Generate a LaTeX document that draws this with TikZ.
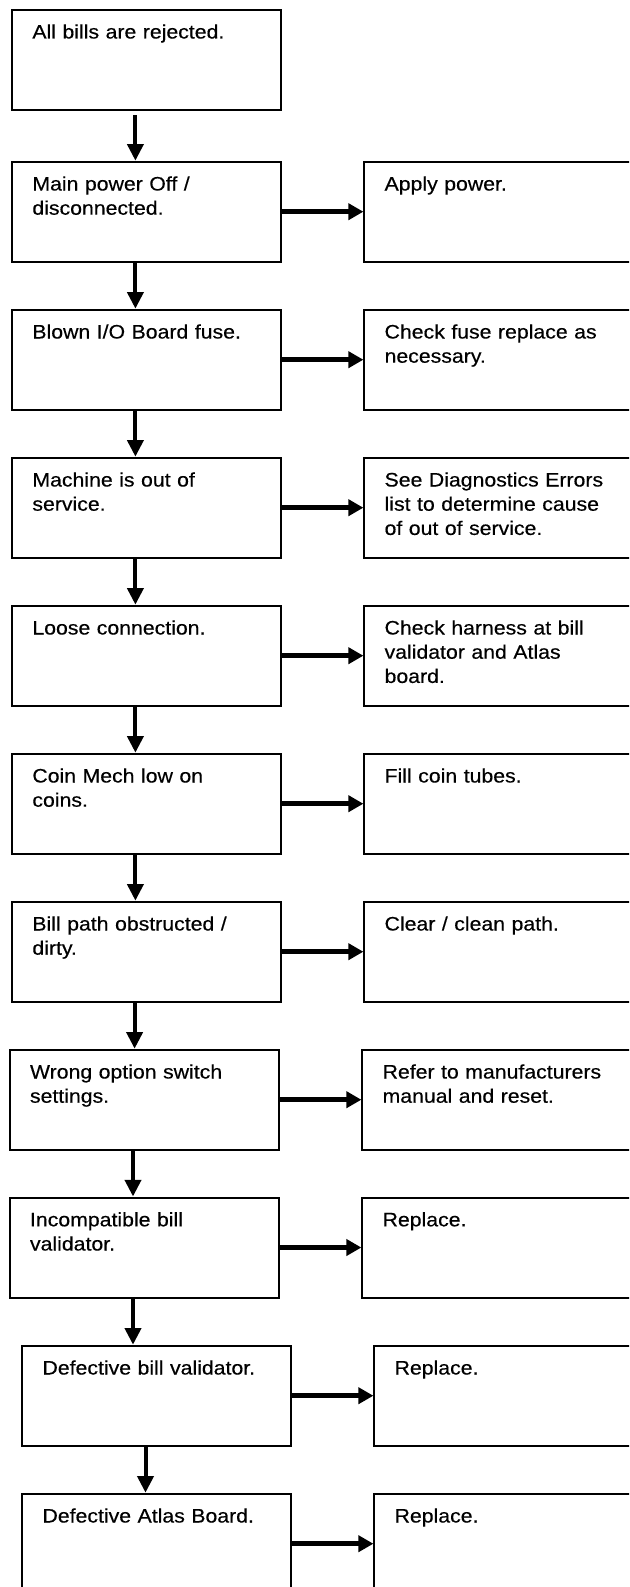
\documentclass[tikz,border=0pt]{standalone}
\usepackage{fontspec}
\setmainfont{Liberation Sans}[FakeStretch=1.09,FakeBold=0.4]
\usetikzlibrary{arrows.meta}
\begin{document}
\begin{tikzpicture}[x=1pt,y=-1pt,
  box/.style={draw=black,line width=2pt,inner sep=0pt,anchor=north west,minimum height=100pt},
  lbox/.style={box,minimum width=268.8pt},
  rbox/.style={box,minimum width=300pt},
  txt/.style={anchor=base west,inner sep=0pt,align=left,text width=250pt,font=\fontsize{19.5pt}{24.2pt}\selectfont},
  varrow/.style={line width=4pt,-{Triangle[length=16.7pt,width=16pt]}},
  harrow/.style={line width=5.3pt,-{Triangle[length=15pt,width=16pt]}}]
\clip (0,0) rectangle (629,1587);
% left column
\node[lbox] (b1) at (11.2,8.7) {};
\node[lbox] (b2) at (11.2,160.7) {};
\node[lbox] (b3) at (11.2,308.7) {};
\node[lbox] (b4) at (11.2,456.7) {};
\node[lbox] (b5) at (11.2,604.7) {};
\node[lbox] (b6) at (11.2,752.7) {};
\node[lbox] (b7) at (11.2,900.7) {};
\node[lbox] (b8) at (8.8,1048.7) {};
\node[lbox] (b9) at (8.8,1196.5) {};
\node[lbox] (b10) at (21.3,1344.7) {};
\node[lbox] (b11) at (21.3,1492.7) {};
% right column
\node[rbox] (r2) at (363.4,160.7) {};
\node[rbox] (r3) at (363.4,308.7) {};
\node[rbox] (r4) at (363.4,456.7) {};
\node[rbox] (r5) at (363.4,604.7) {};
\node[rbox] (r6) at (363.4,752.7) {};
\node[rbox] (r7) at (363.4,900.7) {};
\node[rbox] (r8) at (361.4,1048.7) {};
\node[rbox] (r9) at (361.4,1196.5) {};
\node[rbox] (r10) at (373.4,1344.7) {};
\node[rbox] (r11) at (373.4,1492.7) {};
% texts
\node[txt] (t1) at ([shift={(21,29.8)}]b1.north west) {All bills are rejected.};
\node[txt] (t2) at ([shift={(21,29.8)}]b2.north west) {Main power Off /\\disconnected.};
\node[txt] (t3) at ([shift={(21,29.8)}]b3.north west) {Blown I/O Board fuse.};
\node[txt] (t4) at ([shift={(21,29.8)}]b4.north west) {Machine is out of\\service.};
\node[txt] (t5) at ([shift={(21,29.8)}]b5.north west) {Loose connection.};
\node[txt] (t6) at ([shift={(21,29.8)}]b6.north west) {Coin Mech low on\\coins.};
\node[txt] (t7) at ([shift={(21,29.8)}]b7.north west) {Bill path obstructed /\\dirty.};
\node[txt] (t8) at ([shift={(21,29.8)}]b8.north west) {Wrong option switch\\settings.};
\node[txt] (t9) at ([shift={(21,29.8)}]b9.north west) {Incompatible bill\\validator.};
\node[txt] (t10) at ([shift={(21,29.8)}]b10.north west) {Defective bill validator.};
\node[txt] (t11) at ([shift={(21,29.8)}]b11.north west) {Defective Atlas Board.};
\node[txt] (s2) at ([shift={(21,29.8)}]r2.north west) {Apply power.};
\node[txt] (s3) at ([shift={(21,29.8)}]r3.north west) {Check fuse replace as\\necessary.};
\node[txt] (s4) at ([shift={(21,29.8)}]r4.north west) {See Diagnostics Errors\\list to determine cause\\of out of service.};
\node[txt] (s5) at ([shift={(21,29.8)}]r5.north west) {Check harness at bill\\validator and Atlas\\board.};
\node[txt] (s6) at ([shift={(21,29.8)}]r6.north west) {Fill coin tubes.};
\node[txt] (s7) at ([shift={(21,29.8)}]r7.north west) {Clear / clean path.};
\node[txt] (s8) at ([shift={(21,29.8)}]r8.north west) {Refer to manufacturers\\manual and reset.};
\node[txt] (s9) at ([shift={(21,29.8)}]r9.north west) {Replace.};
\node[txt] (s10) at ([shift={(21,29.8)}]r10.north west) {Replace.};
\node[txt] (s11) at ([shift={(21,29.8)}]r11.north west) {Replace.};
% vertical arrows
\draw[varrow] ([shift={(-11.2,4.6)}]b1.south) -- ([xshift=-11.2]b1.south |- b2.north);
\draw[varrow] ([xshift=-11.2]b2.south) -- ([xshift=-11.2]b2.south |- b3.north);
\draw[varrow] ([xshift=-11.2]b3.south) -- ([xshift=-11.2]b3.south |- b4.north);
\draw[varrow] ([xshift=-11.2]b4.south) -- ([xshift=-11.2]b4.south |- b5.north);
\draw[varrow] ([xshift=-11.2]b5.south) -- ([xshift=-11.2]b5.south |- b6.north);
\draw[varrow] ([xshift=-11.2]b6.south) -- ([xshift=-11.2]b6.south |- b7.north);
\draw[varrow] ([xshift=-12]b7.south) -- ([xshift=-12]b7.south |- b8.north);
\draw[varrow] ([xshift=-11.2]b8.south) -- ([xshift=-11.2]b8.south |- b9.north);
\draw[varrow] ([xshift=-11.2]b9.south) -- ([xshift=-11.2]b9.south |- b10.north);
\draw[varrow] ([xshift=-11.2]b10.south) -- ([xshift=-11.2]b10.south |- b11.north);
% horizontal arrows
\draw[harrow] (b2.east) -- (b2.east -| r2.west);
\draw[harrow] (b3.east) -- (b3.east -| r3.west);
\draw[harrow] (b4.east) -- (b4.east -| r4.west);
\draw[harrow] (b5.east) -- (b5.east -| r5.west);
\draw[harrow] (b6.east) -- (b6.east -| r6.west);
\draw[harrow] (b7.east) -- (b7.east -| r7.west);
\draw[harrow] (b8.east) -- (b8.east -| r8.west);
\draw[harrow] (b9.east) -- (b9.east -| r9.west);
\draw[harrow] (b10.east) -- (b10.east -| r10.west);
\draw[harrow] (b11.east) -- (b11.east -| r11.west);
\end{tikzpicture}
\end{document}
